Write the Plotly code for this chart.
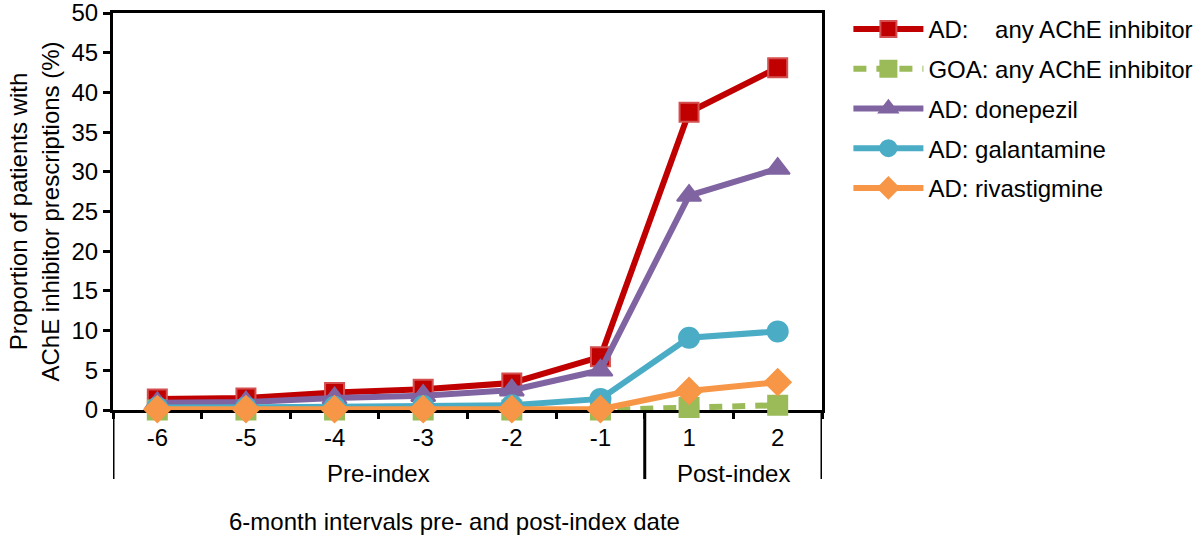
import plotly.graph_objects as go

categories = ["-6", "-5", "-4", "-3", "-2", "-1", "1", "2"]
groups = ["Pre-index", "Post-index"]
group_sizes = [6, 2]

ad_any = [1.4, 1.5, 2.2, 2.6, 3.4, 6.7, 37.5, 43.1]
goa_any = [0.0, 0.0, 0.0, 0.0, 0.0, 0.0, 0.3, 0.6]
ad_donepezil = [0.9, 1.0, 1.5, 1.8, 2.5, 5.0, 27.0, 30.4]
ad_galantamine = [0.3, 0.3, 0.4, 0.5, 0.6, 1.4, 9.1, 9.9]
ad_rivastigmine = [0.1, 0.1, 0.1, 0.1, 0.1, 0.1, 2.4, 3.5]

series = [
    ("AD:\u00a0\u00a0\u00a0\u00a0any AChE inhibitor", ad_any, "#C00000", "square", 19, "solid", "#D45050"),
    ("GOA: any AChE inhibitor", goa_any, "#9BBB59", "square", 19, "dash", "#9BBB59"),
    ("AD: donepezil", ad_donepezil, "#8064A2", "triangle-up", 21, "solid", "#8064A2"),
    ("AD: galantamine", ad_galantamine, "#4BACC6", "circle", 20, "solid", "#4BACC6"),
    ("AD: rivastigmine", ad_rivastigmine, "#F79646", "diamond", 20, "solid", "#F79646"),
]

FONT = "Liberation Sans, Arial, sans-serif"
FS = 24

fig = go.Figure()
for i, (name, vals, color, sym, size, dash, edge) in enumerate(series):
    fig.add_trace(go.Scatter(
        x=categories, y=vals, name=name, mode="lines+markers",
        line=dict(color=color, width=6, dash="13px,10px" if dash == "dash" else "solid"),
        marker=dict(symbol=sym, size=size, color=color, line=dict(color=edge, width=2)),
        cliponaxis=False, legendgroup=f"g{i}",
    ))

fig.update_layout(
    width=1200, height=538,
    margin=dict(l=113, r=378, t=13, b=128),
    paper_bgcolor="white", plot_bgcolor="white",
    font=dict(family=FONT, size=FS, color="black"),
    showlegend=True,
    legend=dict(xref="container", yref="container", x=0.707, y=0.987,
                xanchor="left", yanchor="top",
                font=dict(size=FS), tracegroupgap=5.5, itemwidth=70,
                bgcolor="rgba(0,0,0,0)"),
    xaxis=dict(type="category", range=[-0.5, len(categories) - 0.5],
               showline=True, linecolor="black", linewidth=3, mirror=True,
               ticks="outside", tickson="boundaries", ticklen=6, tickwidth=3,
               tickcolor="black", showgrid=False, zeroline=False, automargin=False,
               tickfont=dict(size=FS), ticklabelstandoff=4, layer="below traces"),
    yaxis=dict(range=[0, 50], dtick=5, showline=True, linecolor="black",
               linewidth=3, mirror=True, ticks="outside", ticklen=7, tickwidth=3,
               tickcolor="black", showgrid=False, zeroline=False, automargin=False,
               tickfont=dict(size=FS), layer="below traces", ticklabeloverflow="allow",
               title=dict(text="Proportion of patients with<br>AChE inhibitor prescriptions (%)",
                          font=dict(size=FS), standoff=6)),
)

# group separators and labels
bottom = -0.174
bounds = [-0.5]
acc = -0.5
for s in group_sizes:
    acc += s
    bounds.append(acc)
for b in bounds:
    fig.add_shape(type="line", xref="x", yref="paper", x0=b, x1=b, y0=0, y1=bottom,
                  line=dict(color="black", width=3))
for gname, a, b in zip(groups, bounds[:-1], bounds[1:]):
    fig.add_annotation(text=gname, xref="x", yref="paper", x=(a + b) / 2, y=-0.159,
                       showarrow=False, font=dict(size=FS), yanchor="middle")

fig.add_annotation(text="6-month intervals pre- and post-index date", xref="paper",
                   yref="paper", x=0.482, y=-0.282, showarrow=False,
                   font=dict(size=FS), yanchor="middle")

fig.write_html("out.html", config={"displayModeBar": False},
               post_script="document.body.style.margin='0';")
